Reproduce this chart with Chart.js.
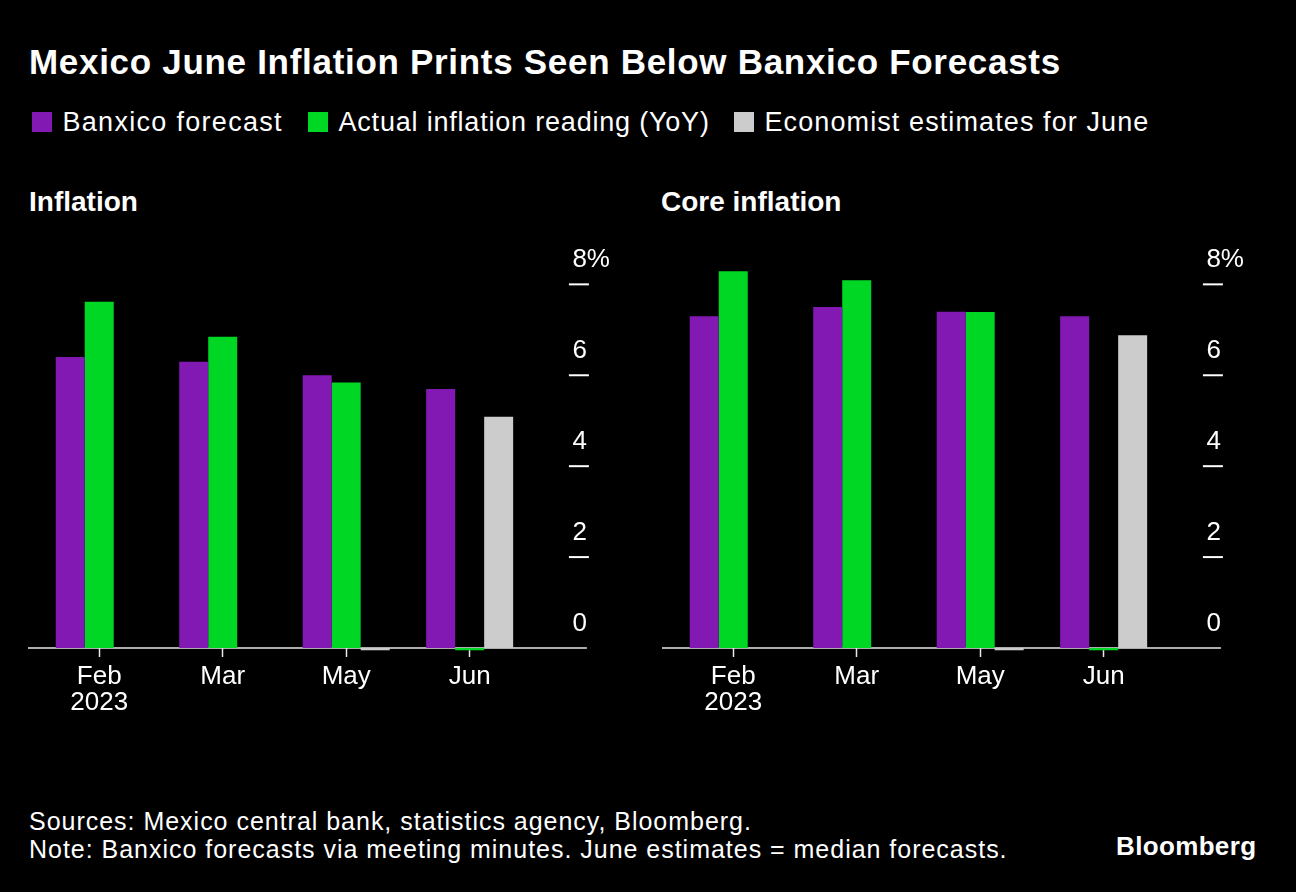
<!DOCTYPE html>
<html>
<head>
<meta charset="utf-8">
<script src="https://cdn.jsdelivr.net/npm/chart.js@4.4.1/dist/chart.umd.min.js"></script>
<style>
  html, body { margin: 0; padding: 0; background: #000; }
  body { width: 1296px; height: 892px; position: relative; overflow: hidden;
         font-family: 'Liberation Sans', Arial, Helvetica, sans-serif; color: #fff; }
  .t { position: absolute; white-space: nowrap; line-height: 1; color: #fff; }
  #title { left: 29px; top: 43.7px; font-weight: bold; font-size: 35px; letter-spacing: 0.7px; }
  .leg { position: absolute; top: 108.8px; display: flex; align-items: flex-start; white-space: nowrap;
         font-size: 27px; line-height: 1; letter-spacing: 0.8px; }
  .leg .sw { width: 20px; height: 19.4px; margin-top: 3.5px; margin-right: 10.5px; }
  #leg0 { left: 32px; letter-spacing: 1.3px; } #leg1 { left: 308px; } #leg2 { left: 734px; letter-spacing: 1.1px; }
  .sub { top: 188px; font-weight: bold; font-size: 28px; }
  #sub0 { left: 29px; } #sub1 { left: 661px; }
  .foot { left: 29px; font-size: 25px; letter-spacing: 0.98px; }
  #src { top: 808.8px; } #note { top: 836.5px; }
  #logo { left: 1116px; top: 833px; font-weight: bold; font-size: 26px; letter-spacing: 0.35px; }
  canvas { position: absolute; top: 230px; }
  #c0 { left: 0px; } #c1 { left: 634px; }
</style>
</head>
<body>
<div id="title" class="t">Mexico June Inflation Prints Seen Below Banxico Forecasts</div>
<div id="legend"></div>
<div id="sub0" class="t sub">Inflation</div>
<div id="sub1" class="t sub">Core inflation</div>
<canvas id="c0" width="620" height="500"></canvas>
<canvas id="c1" width="610" height="500"></canvas>
<div id="src" class="t foot">Sources: Mexico central bank, statistics agency, Bloomberg.</div>
<div id="note" class="t foot">Note: Banxico forecasts via meeting minutes. June estimates = median forecasts.</div>
<div id="logo" class="t">Bloomberg</div>
<script>
// ---------- DATA ----------
const categories = [['Feb', '2023'], 'Mar', 'May', 'Jun'];
const seriesLabels = ['Banxico forecast', 'Actual inflation reading (YoY)', 'Economist estimates for June'];
const seriesColors = ['#8219b2', '#00d624', '#cccccc'];

const inflationBanxico  = [6.40, 6.30, 6.00, 5.70];
const inflationActual   = [7.62, 6.85, 5.84, -0.05];
const inflationEstimate = [null, null, -0.05, 5.09];

const coreBanxico  = [7.30, 7.50, 7.40, 7.30];
const coreActual   = [8.29, 8.09, 7.39, -0.05];
const coreEstimate = [null, null, -0.05, 6.88];

const yTickValues = [0, 2, 4, 6, 8];
const yTickLabels = ['0', '2', '4', '6', '8%'];
const yMin = 0, yMax = 9;

// ---------- LEGEND (HTML) ----------
const legend = document.getElementById('legend');
seriesLabels.forEach((lab, i) => {
  const item = document.createElement('div');
  item.className = 'leg'; item.id = 'leg' + i;
  const sw = document.createElement('div');
  sw.className = 'sw'; sw.style.background = seriesColors[i];
  const tx = document.createElement('span'); tx.textContent = lab;
  item.appendChild(sw); item.appendChild(tx);
  legend.appendChild(item);
});

// ---------- CHARTS ----------
const FONT = "'Liberation Sans', Arial, Helvetica, sans-serif";

const decor = {
  id: 'decor',
  beforeDatasetsDraw(chart) {
    const { ctx, chartArea, scales: { y } } = chart;
    const y0 = y.getPixelForValue(0);
    ctx.save();
    ctx.strokeStyle = '#e8e8e8';
    ctx.lineWidth = 1.5;
    ctx.beginPath();
    ctx.moveTo(chartArea.left - 9.5, y0);
    ctx.lineTo(chartArea.right + 55.5, y0);
    ctx.stroke();
    ctx.restore();
  },
  afterDatasetsDraw(chart) {
    const { ctx, chartArea, scales: { y } } = chart;
    ctx.save();
    ctx.lineWidth = 2;
    ctx.strokeStyle = '#ffffff';
    ctx.fillStyle = '#ffffff';
    ctx.font = '26px ' + FONT;
    ctx.textAlign = 'left';
    ctx.textBaseline = 'alphabetic';
    yTickValues.forEach((v, i) => {
      const py = y.getPixelForValue(v);
      if (v !== 0) {
        ctx.beginPath();
        ctx.moveTo(chartArea.right + 37.5, py);
        ctx.lineTo(chartArea.right + 57.5, py);
        ctx.stroke();
      }
      ctx.fillText(yTickLabels[i], chartArea.right + 41, py - 17.5);
    });
    ctx.restore();
  }
};

function makeChart(id, a, b, c, padRight) {
  return new Chart(document.getElementById(id), {
    type: 'bar',
    data: {
      labels: categories,
      datasets: [
        { label: seriesLabels[0], data: a, backgroundColor: seriesColors[0], clip: false },
        { label: seriesLabels[1], data: b, backgroundColor: seriesColors[1], clip: false },
        { label: seriesLabels[2], data: c, backgroundColor: seriesColors[2], clip: false }
      ]
    },
    options: {
      responsive: false,
      animation: false,
      devicePixelRatio: 1,
      layout: { padding: { left: 37.5, right: padRight, top: 8.9, bottom: 12 } },
      plugins: { legend: { display: false }, tooltip: { enabled: false } },
      datasets: { bar: { categoryPercentage: 0.7045, barPercentage: 1.0 } },
      scales: {
        x: {
          grid: { display: true, drawOnChartArea: false, drawTicks: true, tickLength: 9,
                  tickWidth: 1.5, tickColor: '#e8e8e8', offset: false },
          border: { display: false },
          ticks: { color: '#ffffff', font: { family: FONT, size: 26, lineHeight: 1.0 },
                   padding: 7, maxRotation: 0, autoSkip: false },
          afterFit(s) { s.height = 70; }
        },
        y: { display: false, min: yMin, max: yMax }
      }
    },
    plugins: [decor]
  });
}

makeChart('c0', inflationBanxico, inflationActual, inflationEstimate, 88.6);
makeChart('c1', coreBanxico, coreActual, coreEstimate, 78.6);
</script>
</body>
</html>
